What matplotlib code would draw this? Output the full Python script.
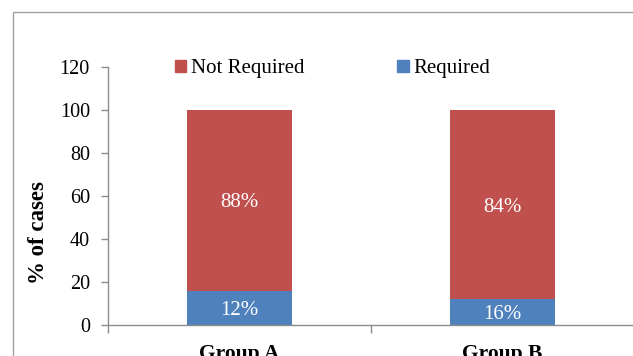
import matplotlib
matplotlib.use("Agg")
import matplotlib.pyplot as plt
from matplotlib.patches import Patch, Rectangle

groups = ["Group A", "Group B"]
required = [16, 12]
not_required = [84, 88]
required_labels = ["12%", "16%"]
not_required_labels = ["88%", "84%"]
yticks = [0, 20, 40, 60, 80, 100, 120]

red = "#C0504D"
blue = "#4F81BD"
gray = "#8C8C8C"

plt.rcParams["font.family"] = ["Liberation Serif", "DejaVu Serif"]

fig = plt.figure(figsize=(6.33, 3.56), dpi=100)
ax = fig.add_axes([108 / 633, 1 - 325 / 356, 526 / 633, 258 / 356])

x = range(len(groups))
ax.bar(x, required, width=0.4, color=blue, label="Required")
ax.bar(x, not_required, width=0.4, bottom=required, color=red, label="Not Required")

for i in x:
    ax.text(i, required[i] / 2, required_labels[i], ha="center",
            va="center_baseline", color="white", fontsize=15)
    ax.text(i, required[i] + not_required[i] / 2, not_required_labels[i],
            ha="center", va="center_baseline", color="white", fontsize=15)

ax.set_xlim(-0.5, 1.5)
ax.set_ylim(0, 120)
ax.set_yticks(yticks)
ax.tick_params(axis="y", labelsize=14.5, length=5, color=gray, width=1, pad=8)
ax.set_xticks(list(x))
ax.set_xticklabels(groups, fontsize=15.5, fontweight="bold")
ax.tick_params(axis="x", length=0, pad=14)
ax.set_xticks([-0.5, 0.5, 1.5], minor=True)
ax.tick_params(axis="x", which="minor", length=6, color=gray, width=1)
for s in ["top", "right"]:
    ax.spines[s].set_visible(False)
for s in ["left", "bottom"]:
    ax.spines[s].set_color(gray)
    ax.spines[s].set_linewidth(1)

ax.set_ylabel("% of cases", fontsize=16.5, fontweight="bold", va="center")
ax.yaxis.set_label_coords((38 - 108) / 526, (325 - 233) / 258)

handles = [Patch(color=red, label="Not Required"), Patch(color=blue, label="Required")]
fig.legend(handles=handles, ncol=2, frameon=False, loc="center left",
           bbox_to_anchor=(175 / 633, 1 - 69 / 356), fontsize=15,
           handlelength=0.53, handleheight=0.53, handletextpad=0.25,
           columnspacing=4.45, borderpad=0, borderaxespad=0)

fig.patches.append(Rectangle((13 / 633, -0.1), 1.0, 1 - 12 / 356 + 0.1,
                             transform=fig.transFigure, fill=False,
                             edgecolor="#A0A0A0", linewidth=1))

fig.savefig("out.png", dpi=100)
